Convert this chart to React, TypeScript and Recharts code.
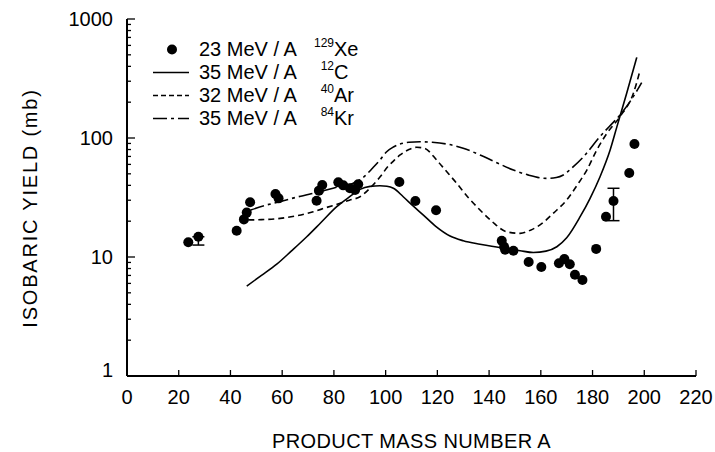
import { ComposedChart, Line, Scatter, XAxis, YAxis, ErrorBar } from "recharts";

const FONT = "'Liberation Sans', Arial, sans-serif";

// 23 MeV/A 129Xe measured isobaric yields [A, mb]
const xeA = [23.7, 42.4, 45.2, 46.3, 47.6, 57.4, 58.6, 73.3, 74.2, 75.5, 81.7, 83.6, 86.2, 88.2, 89.4, 105.3, 111.5, 119.5, 144.9, 145.8, 146.2, 149.4, 155.3, 160.2, 167, 169.1, 171.2, 173.2, 176.1, 181.4, 185.2, 194.2, 196.2];
const xeY = [13.3, 16.6, 20.7, 23.6, 28.8, 33.8, 31.1, 29.7, 36.1, 40.3, 42.4, 40, 37.8, 36.6, 40.8, 42.7, 29.6, 24.7, 13.7, 12.2, 11.5, 11.3, 9.08, 8.24, 8.85, 9.6, 8.68, 7.1, 6.4, 11.7, 21.8, 50.8, 89];

// points drawn with error bars [lower, upper]
const xeErrA = [27.6, 188.1];
const xeErrY = [14.8, 29.6];
const xeErrE = [[2.2, 0], [9.4, 8.2]];

// 35 MeV/A 12C
const cA = [46.3, 52, 57.9, 63.5, 69.5, 75, 81.1, 86, 90.1, 94, 97.8, 100.5, 103, 106.8, 110.5, 114.6, 119.5, 124.9, 130, 136.5, 141, 146.8, 152, 157.1, 162, 166.2, 170, 175.2, 179, 182.9, 186.8, 189.4, 193.2, 197.1];
const cY = [5.7, 7.0, 8.7, 11.2, 14.8, 19.5, 26.5, 32, 37, 39.2, 39.7, 39.3, 37.8, 32.1, 27, 22.5, 18, 15, 13.7, 12.8, 12.3, 11.8, 11.3, 10.9, 11.2, 12.2, 14.5, 21.8, 31, 47.3, 79.3, 124, 238, 476];

// 32 MeV/A 40Ar
const arA = [46.9, 52, 59.2, 66, 72, 77, 82.4, 86, 90.1, 94, 97.8, 101, 103, 105.6, 109, 112, 115, 119.8, 123, 127.5, 132, 136.5, 141, 146.8, 152, 156, 159.7, 165, 170, 174, 177.8, 181.6, 185.5, 190.6, 195.8, 198.4];
const arY = [20.5, 20.6, 21.1, 22.3, 24, 26, 28.3, 30, 32.1, 38, 47, 58, 64, 72, 80, 83.6, 82, 65, 54, 41.6, 31.5, 24.8, 20, 16.3, 15.8, 16.8, 18.6, 23.5, 30.1, 40, 53.8, 79, 109, 151, 238, 372];

// 35 MeV/A 84Kr
const krA = [47.8, 53, 59.2, 66, 74.6, 81, 87.5, 92, 95, 97.8, 100.4, 103, 105.6, 109, 113.3, 118, 123.6, 130, 136.5, 143, 149.4, 155, 162.3, 166, 168.7, 172, 176.5, 182.9, 186.5, 190.6, 195, 199];
const krY = [24.8, 27, 29.2, 32, 35.4, 38.5, 41.6, 48, 56, 65.3, 76.7, 84, 89, 92, 93, 92, 89, 82, 72, 62, 53.8, 49, 45.8, 46.5, 48.9, 56, 69.6, 103, 125, 156, 210, 292];

const xTicks = [0, 20, 40, 60, 80, 100, 120, 140, 160, 180, 200, 220];
const yTicks = [1, 2, 3, 4, 5, 6, 7, 8, 9, 10, 20, 30, 40, 50, 60, 70, 80, 90, 100, 200, 300, 400, 500, 600, 700, 800, 900, 1000];
const yLabels = [1, 10, 100, 1000];

const xeData = xeA.map((a, i) => ({ a, y: xeY[i] }));
const xeErrData = xeErrA.map((a, i) => ({ a, y: xeErrY[i], err: xeErrE[i] }));
const cData = cA.map((a, i) => ({ a, y: cY[i] }));
const arData = arA.map((a, i) => ({ a, y: arY[i] }));
const krData = krA.map((a, i) => ({ a, y: krY[i] }));

const isDecade = (v: number) => yLabels.includes(v);

const BottomTick = ({ x, y, payload }: any) => (
  <g>
    <line x1={x} x2={x} y1={y} y2={y - 6} stroke="#000" strokeWidth={1.3} />
    <text x={x} y={y + 28} textAnchor="middle" fontSize={20} fontFamily={FONT} fill="#000">{payload.value}</text>
  </g>
);

const TopTick = ({ x, y }: any) => (
  <line x1={x} x2={x} y1={y} y2={y + 6} stroke="#000" strokeWidth={1.3} />
);

const LeftTick = ({ x, y, payload }: any) => {
  const dec = isDecade(payload.value);
  return (
    <g>
      <line x1={x} x2={x + (dec ? 8 : 4)} y1={y} y2={y} stroke="#000" strokeWidth={1.3} />
      {dec && (
        <text x={x - 14} y={y + 7 - (payload.value === 1 ? 6 : 0)} textAnchor="end" fontSize={20} fontFamily={FONT} fill="#000">{payload.value}</text>
      )}
    </g>
  );
};

const RightTick = ({ x, y, payload }: any) => {
  const dec = isDecade(payload.value);
  return <line x1={x} x2={x - (dec ? 8 : 4)} y1={y} y2={y} stroke="#000" strokeWidth={1.3} />;
};

const Dot = ({ cx, cy }: any) => <circle cx={cx} cy={cy} r={5} fill="#000" />;

const legendRows = [
  { kind: "dot", text: "23 MeV / A", sup: "129", el: "Xe" },
  { kind: "solid", text: "35 MeV / A", sup: "12", el: "C" },
  { kind: "dash", text: "32 MeV / A", sup: "40", el: "Ar" },
  { kind: "dashdot", text: "35 MeV / A", sup: "84", el: "Kr" },
];

const Sample = ({ kind }: { kind: string }) => (
  <svg width={36} height={23}>
    {kind === "dot" ? (
      <circle cx={19} cy={11.5} r={5} fill="#000" />
    ) : (
      <line x1={0} x2={36} y1={11.5} y2={11.5} stroke="#000" strokeWidth={1.5}
        strokeDasharray={kind === "dash" ? "5 3" : kind === "dashdot" ? "14 4 3 4" : undefined} />
    )}
  </svg>
);

export default function App() {
  return (
    <div style={{ position: "absolute", left: 0, top: 0, width: 715, height: 452, background: "#fff" }}>
      <ComposedChart width={715} height={452} margin={{ top: 19, right: 19, bottom: 0, left: 0 }}>
        <XAxis xAxisId={0} dataKey="a" type="number" domain={[0, 220]} ticks={xTicks} interval={0}
          height={76} tickSize={0} tickMargin={0} tickLine={false} tick={<BottomTick />}
          axisLine={{ stroke: "#000", strokeWidth: 2 }} allowDataOverflow />
        <XAxis xAxisId="top" orientation="top" type="number" domain={[0, 220]} ticks={xTicks} interval={0}
          height={0} tickSize={0} tickMargin={0} tickLine={false} tick={<TopTick />}
          axisLine={{ stroke: "#000", strokeWidth: 2 }} allowDataOverflow />
        <YAxis yAxisId={0} scale="log" type="number" domain={[1, 1000]} ticks={yTicks} interval={0}
          width={127} tickSize={0} tickMargin={0} tickLine={false} tick={<LeftTick />}
          axisLine={{ stroke: "#000", strokeWidth: 2 }} allowDataOverflow />
        <YAxis yAxisId="right" orientation="right" scale="log" type="number" domain={[1, 1000]} ticks={yTicks} interval={0}
          width={0} tickSize={0} tickMargin={0} tickLine={false} tick={<RightTick />}
          axisLine={{ stroke: "#000", strokeWidth: 2 }} allowDataOverflow />

        <Line data={cData} dataKey="y" type="monotone" stroke="#000" strokeWidth={1.6} dot={false} isAnimationActive={false} />
        <Line data={arData} dataKey="y" type="monotone" stroke="#000" strokeWidth={1.6} strokeDasharray="6 4" dot={false} isAnimationActive={false} />
        <Line data={krData} dataKey="y" type="monotone" stroke="#000" strokeWidth={1.6} strokeDasharray="14 4 3 4" dot={false} isAnimationActive={false} />

        <Scatter data={xeData} dataKey="y" fill="#000" shape={<Dot />} isAnimationActive={false} />
        <Scatter data={xeErrData} dataKey="y" fill="#000" shape={<Dot />} isAnimationActive={false}>
          <ErrorBar dataKey="err" direction="y" width={6} stroke="#000" strokeWidth={1.5} isAnimationActive={false} />
        </Scatter>
      </ComposedChart>

      <div style={{ position: "absolute", left: 153, top: 37.5, fontFamily: FONT, fontSize: 20, color: "#000" }}>
        {legendRows.map((r, i) => (
          <div key={i} style={{ display: "flex", alignItems: "center", height: 23 }}>
            <Sample kind={r.kind} />
            <span style={{ marginLeft: 10, width: 112, whiteSpace: "nowrap" }}>{r.text}</span>
            <span style={{ width: 23, textAlign: "right", fontSize: 12, position: "relative", top: -6 }}>{r.sup}</span>
            <span>{r.el}</span>
          </div>
        ))}
      </div>

      <div style={{ position: "absolute", left: 0, top: 430, width: 823, textAlign: "center", fontFamily: FONT, fontSize: 20, letterSpacing: 0.4, lineHeight: "22px" }}>
        PRODUCT MASS NUMBER A
      </div>
      <div style={{ position: "absolute", left: 30, top: 208, width: 0, height: 0 }}>
        <div style={{ position: "absolute", transform: "translate(-50%, -50%) rotate(-90deg)", whiteSpace: "nowrap", fontFamily: FONT, fontSize: 20, lineHeight: "22px", letterSpacing: 1.8 }}>
          ISOBARIC YIELD (mb)
        </div>
      </div>
    </div>
  );
}
